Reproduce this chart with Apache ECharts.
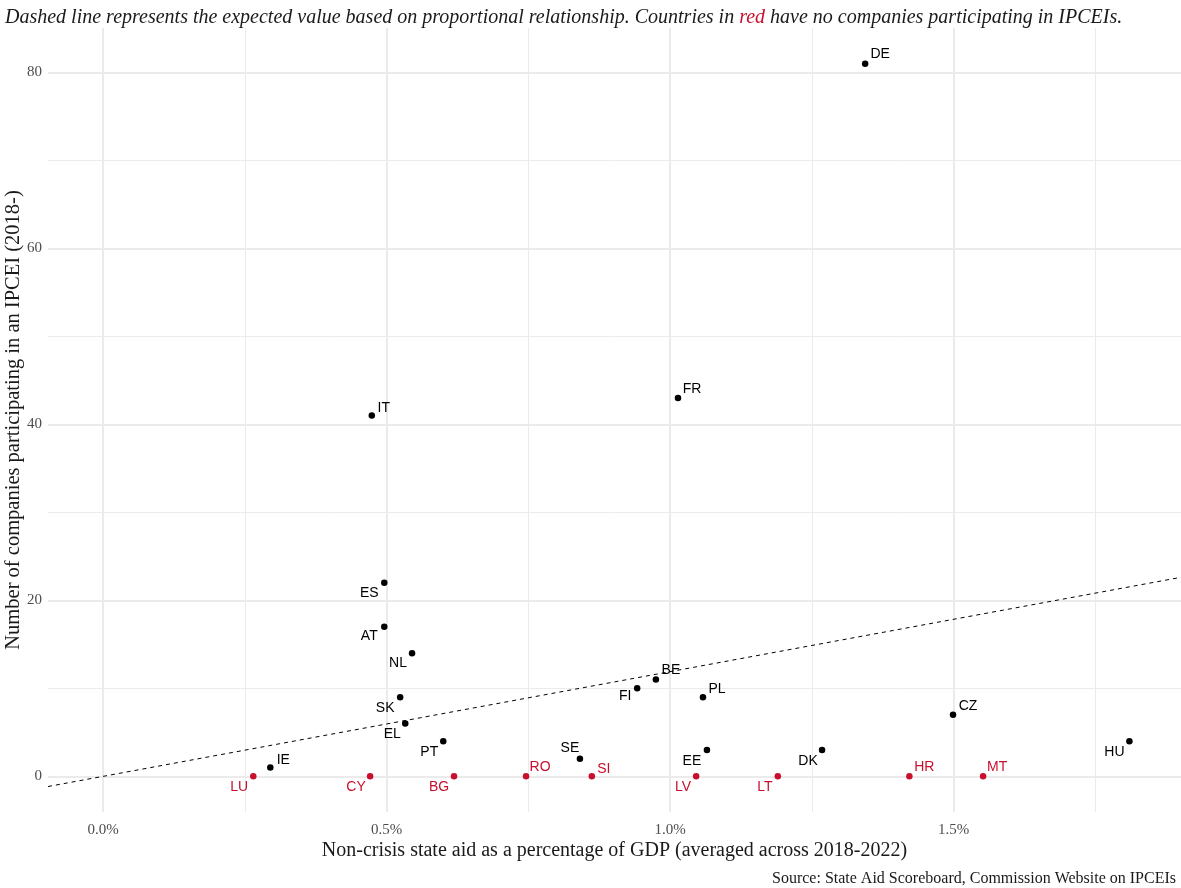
<!DOCTYPE html>
<html><head><meta charset="utf-8">
<script src="https://cdn.jsdelivr.net/npm/echarts@6/dist/echarts.min.js"></script>
<style>html,body{margin:0;padding:0;background:#fff}#c{width:1181px;height:888px}</style>
</head><body><div id="c"></div>
<script>
// ---- data ----
const countries = ['DE','FR','IT','ES','AT','NL','SK','EL','PT','IE','SE','FI','BE','PL','EE','DK','CZ','HU',
                   'LU','CY','BG','RO','SI','LV','LT','HR','MT'];
const aidPct    = [1.344,1.014,0.474,0.496,0.496,0.545,0.524,0.533,0.600,0.295,0.841,0.942,0.975,1.058,1.065,1.268,1.499,1.810,
                   0.265,0.471,0.619,0.746,0.862,1.046,1.190,1.422,1.552];
const companies = [81,43,41,22,17,14,9,6,4,1,2,10,11,9,3,3,7,4,
                   0,0,0,0,0,0,0,0,0];
const expectedSlope = 11.9;       // companies per 1% of GDP (proportional line)
const xTicks = [0, 0.5, 1, 1.5];
const xMinor = [0.25, 0.75, 1.25, 1.75];
const yTicks = [0, 20, 40, 60, 80];
const yMinor = [10, 30, 50, 70];

// ---- label placement (style only) ----
const labelOffsets = {
  DE:[15,-9], FR:[14,-9], IT:[12,-7], ES:[-15,10], AT:[-15,9], NL:[-14,10], SK:[-15,11], EL:[-13,11],
  PT:[-14,11], IE:[13,-7], SE:[-10,-11], FI:[-12,8], BE:[15,-9], PL:[14,-8], EE:[-15,11], DK:[-14,11],
  CZ:[15,-9], HU:[-15,11], LU:[-14,11], CY:[-14,11], BG:[-15,11], RO:[14,-9], SI:[12,-7], LV:[-13,11],
  LT:[-13,11], HR:[15,-9], MT:[14,-9]
};
const RED = '#C8102E';
const SERIF = '"Liberation Serif", "DejaVu Serif", serif';
const SANS = '"Liberation Sans", Arial, sans-serif';
const SYM = 6.5;

const xMin = -0.097, xMax = 1.901, yMin = -4.05, yMax = 85.05;

const pts = countries.map((c, i) => {
  const red = companies[i] === 0;
  const o = labelOffsets[c];
  return {
    value: [aidPct[i], companies[i]],
    name: c,
    itemStyle: { color: red ? RED : '#000', opacity: 1 },
    label: {
      show: true, formatter: c, position: [SYM / 2 + o[0], SYM / 2 + o[1]], distance: 0,
      color: red ? RED : '#000', fontFamily: SANS, fontSize: 14,
      textBorderWidth: 0, align: 'center', verticalAlign: 'middle'
    }
  };
});

const near = (v, arr) => arr.some(t => Math.abs(v - t) < 1e-6);

const chart = echarts.init(document.getElementById('c'), null, { renderer: 'canvas' });
chart.setOption({
  animation: false,
  backgroundColor: '#fff',
  title: [{
    text: '{i|Dashed line represents the expected value based on proportional relationship. Countries in }{r|red}{i| have no companies participating in IPCEIs.}',
    left: 0, top: 3,
    textStyle: { fontWeight: 'normal', rich: {
      i: { fontFamily: SERIF, fontStyle: 'italic', fontWeight: 'normal', fontSize: 20, color: '#1a1a1a' },
      r: { fontFamily: SERIF, fontStyle: 'italic', fontWeight: 'normal', fontSize: 20, color: RED }
    } }
  }, {
    text: 'Source: State Aid Scoreboard, Commission Website on IPCEIs',
    right: 0, top: 866,
    textStyle: { fontFamily: SERIF, fontWeight: 'normal', fontSize: 16, color: '#1a1a1a' }
  }],
  grid: { left: 48, right: 0, top: 28, bottom: 76, containLabel: false, outerBoundsMode: 'none' },
  xAxis: {
    type: 'value', min: xMin, max: xMax, splitNumber: 4,
    name: 'Non-crisis state aid as a percentage of GDP (averaged across 2018-2022)',
    nameLocation: 'middle', nameGap: 29, nameMoveOverlap: false,
    nameTextStyle: { fontFamily: SERIF, fontSize: 20, color: '#1a1a1a' },
    axisLine: { show: false }, axisTick: { show: false },
    axisLabel: {
      showMinLabel: false, showMaxLabel: false, margin: 11,
      fontFamily: SERIF, fontSize: 15, color: '#4d4d4d',
      formatter: v => near(v, xTicks) ? v.toFixed(1) + '%' : ''
    },
    splitLine: { show: true, showMinLine: false, showMaxLine: false, lineStyle: { color: '#ebebeb', width: 2 } }
  },
  yAxis: {
    type: 'value', min: yMin, max: yMax, splitNumber: 4,
    name: 'Number of companies participating in an IPCEI (2018-)',
    nameLocation: 'middle', nameGap: 24, nameRotate: 90, nameMoveOverlap: false,
    nameTextStyle: { fontFamily: SERIF, fontSize: 20.5, color: '#1a1a1a' },
    axisLine: { show: false }, axisTick: { show: false },
    axisLabel: {
      showMinLabel: false, showMaxLabel: false, margin: 6,
      fontFamily: SERIF, fontSize: 15, color: '#4d4d4d',
      formatter: v => near(v, yTicks) ? String(v) : ''
    },
    splitLine: { show: true, showMinLine: false, showMaxLine: false, lineStyle: { color: '#ebebeb', width: 2 } }
  },
  series: [
    {
      type: 'line', silent: true, symbol: 'none',
      data: [], z: 0,
      markLine: {
        silent: true, symbol: 'none', label: { show: false }, z: 0,
        lineStyle: { color: '#ebebeb', width: 1, type: 'solid' },
        data: xMinor.map(v => ({ xAxis: v })).concat(yMinor.map(v => ({ yAxis: v })))
      }
    },
    {
      type: 'line', symbol: 'none', z: 2,
      data: [[xMin, expectedSlope * xMin], [xMax, expectedSlope * xMax]],
      lineStyle: { color: '#000', width: 1, type: [4, 4] }
    },
    {
      type: 'scatter', symbol: 'circle', symbolSize: SYM, z: 10,
      itemStyle: { opacity: 1 },
      data: pts
    }
  ]
});
</script>
</body></html>
